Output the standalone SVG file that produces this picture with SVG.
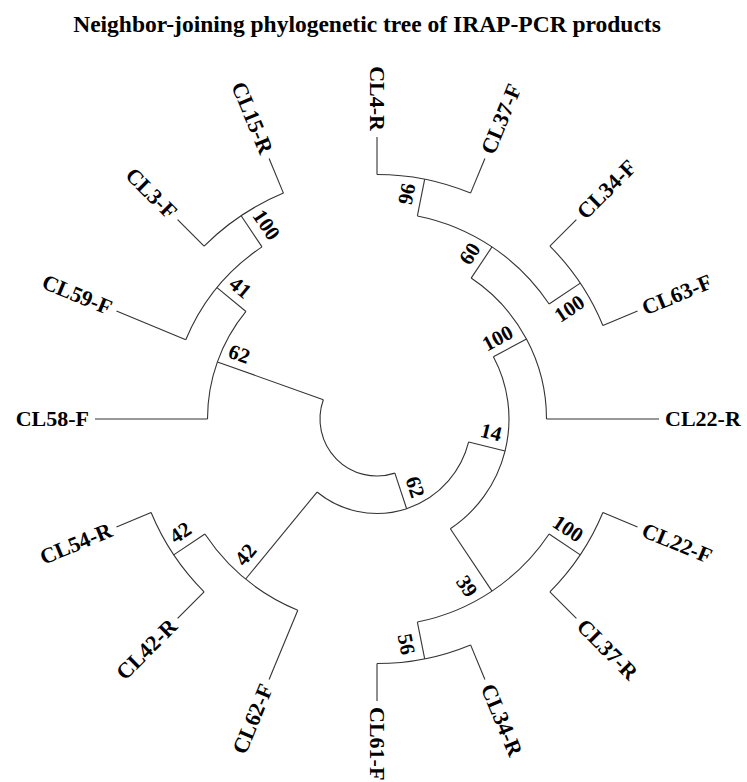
<svg xmlns="http://www.w3.org/2000/svg" width="747" height="782" viewBox="0 0 747 782">
<style>
.br{fill:none;stroke:#333;stroke-width:1.1}
.lf{font-family:"Liberation Serif","Times New Roman",serif;font-weight:bold;font-size:22px;fill:#000}
.bs{font-family:"Liberation Serif","Times New Roman",serif;font-weight:bold;font-size:21px;fill:#000;text-anchor:middle}
.title{font-family:"Liberation Serif","Times New Roman",serif;font-weight:bold;font-size:23.5px;fill:#000;text-anchor:middle}
.r{text-anchor:start}
.l{text-anchor:end}
</style>
<rect width="747" height="782" fill="#fff"/>
<text class="title" x="367" y="32">Neighbor-joining phylogenetic tree of IRAP-PCR products</text>

<g id="connectors" class="br">
<!-- arcs -->
<path d="M323.33,399.80 A57,57 0 0 0 394.88,473.12"/>
<path d="M245.97,311.47 A169.5,169.5 0 0 0 207.5,419"/>
<path d="M262.00,246.89 A207,207 0 0 0 185.76,339.79"/>
<path d="M283.43,193.11 A244.5,244.5 0 0 0 204.11,246.11"/>
<path d="M317.05,492.05 A94.5,94.5 0 0 0 468.67,441.96"/>
<path d="M204.89,534.00 A207,207 0 0 0 297.79,610.24"/>
<path d="M151.11,512.57 A244.5,244.5 0 0 0 204.11,591.89"/>
<path d="M450.34,528.75 A132,132 0 0 0 493.41,356.78"/>
<path d="M546.5,419 A169.5,169.5 0 0 0 471.17,278.07"/>
<path d="M549.11,304.00 A207,207 0 0 0 417.38,215.98"/>
<path d="M470.57,193.11 A244.5,244.5 0 0 0 377,174.5"/>
<path d="M602.89,325.43 A244.5,244.5 0 0 0 549.89,246.11"/>
<path d="M417.38,622.02 A207,207 0 0 0 549.11,534.00"/>
<path d="M549.89,591.89 A244.5,244.5 0 0 0 602.89,512.57"/>
<path d="M377,663.5 A244.5,244.5 0 0 0 470.57,644.89"/>
<!-- radial branches -->
<path d="M323.33,399.80 L217.41,361.90"/>
<path d="M394.88,473.12 L406.64,508.73"/>
<path d="M207.5,419 L95,419"/>
<path d="M245.97,311.47 L216.99,287.68"/>
<path d="M185.76,339.79 L116.47,311.08"/>
<path d="M262.00,246.89 L241.16,215.71"/>
<path d="M283.43,193.11 L269.08,158.47"/>
<path d="M204.11,246.11 L177.60,219.60"/>
<path d="M317.05,492.05 L245.68,579.01"/>
<path d="M468.67,441.96 L505.04,451.07"/>
<path d="M204.89,534.00 L173.71,554.84"/>
<path d="M297.79,610.24 L269.08,679.53"/>
<path d="M151.11,512.57 L116.47,526.92"/>
<path d="M204.11,591.89 L177.60,618.40"/>
<path d="M450.34,528.75 L492.00,591.11"/>
<path d="M493.41,356.78 L526.49,339.10"/>
<path d="M546.5,419 L659,419"/>
<path d="M471.17,278.07 L492.00,246.89"/>
<path d="M549.11,304.00 L580.29,283.16"/>
<path d="M417.38,215.98 L424.70,179.20"/>
<path d="M470.57,193.11 L484.92,158.47"/>
<path d="M377,174.5 L377,137"/>
<path d="M602.89,325.43 L637.53,311.08"/>
<path d="M549.89,246.11 L576.40,219.60"/>
<path d="M417.38,622.02 L424.70,658.80"/>
<path d="M549.11,534.00 L580.29,554.84"/>
<path d="M549.89,591.89 L576.40,618.40"/>
<path d="M602.89,512.57 L637.53,526.92"/>
<path d="M377,663.5 L377,701"/>
<path d="M470.57,644.89 L484.92,679.53"/>
</g>

<!-- leaves -->
<g id="CL4-R"><text class="lf l" dy="0.33em" transform="translate(377,131) rotate(90)">CL4-R</text></g>
<g id="CL37-F"><text class="lf r" dy="0.33em" transform="translate(487.21,152.92) rotate(-67.5)">CL37-F</text></g>
<g id="CL34-F"><text class="lf r" dy="0.33em" transform="translate(580.65,215.35) rotate(-45)">CL34-F</text></g>
<g id="CL63-F"><text class="lf r" dy="0.33em" transform="translate(643.08,308.79) rotate(-22.5)">CL63-F</text></g>
<g id="CL22-R"><text class="lf r" dy="0.33em" transform="translate(665,419)">CL22-R</text></g>
<g id="CL22-F"><text class="lf r" dy="0.33em" transform="translate(643.08,529.21) rotate(22.5)">CL22-F</text></g>
<g id="CL37-R"><text class="lf r" dy="0.33em" transform="translate(580.65,622.65) rotate(45)">CL37-R</text></g>
<g id="CL34-R"><text class="lf r" dy="0.33em" transform="translate(487.21,685.08) rotate(67.5)">CL34-R</text></g>
<g id="CL61-F"><text class="lf r" dy="0.33em" transform="translate(377,707) rotate(90)">CL61-F</text></g>
<g id="CL62-F"><text class="lf l" dy="0.33em" transform="translate(266.79,685.08) rotate(-67.5)">CL62-F</text></g>
<g id="CL42-R"><text class="lf l" dy="0.33em" transform="translate(173.35,622.65) rotate(-45)">CL42-R</text></g>
<g id="CL54-R"><text class="lf l" dy="0.33em" transform="translate(110.92,529.21) rotate(-22.5)">CL54-R</text></g>
<g id="CL58-F"><text class="lf l" dy="0.33em" transform="translate(89,419)">CL58-F</text></g>
<g id="CL59-F"><text class="lf l" dy="0.33em" transform="translate(110.92,308.79) rotate(22.5)">CL59-F</text></g>
<g id="CL3-F"><text class="lf l" dy="0.33em" transform="translate(173.35,215.35) rotate(45)">CL3-F</text></g>
<g id="CL15-R"><text class="lf l" dy="0.33em" transform="translate(266.79,152.92) rotate(67.5)">CL15-R</text></g>

<!-- internal nodes (bootstrap values) -->
<g id="root"/>
<g id="n62UL"><text class="bs" dy="0.34em" transform="translate(239.41,353.84) rotate(19.6875)">62</text></g>
<g id="n41"><text class="bs" dy="0.34em" transform="translate(240.42,287.50) rotate(39.375)">41</text></g>
<g id="n100UL"><text class="bs" dy="0.34em" transform="translate(266.55,224.71) rotate(56.25)">100</text></g>
<g id="n96"><text class="bs" dy="0.34em" transform="translate(406.48,193.92) rotate(-78.75)">96</text></g>
<g id="n60"><text class="bs" dy="0.34em" transform="translate(469.53,253.52) rotate(-56.25)">60</text></g>
<g id="n100b"><text class="bs" dy="0.34em" transform="translate(569.29,308.55) rotate(-33.75)">100</text></g>
<g id="n100top"><text class="bs" dy="0.34em" transform="translate(497.5,338) rotate(-28.125)">100</text></g>
<g id="n14"><text class="bs" dy="0.34em" transform="translate(491.22,432.15) rotate(14.0625)">14</text></g>
<g id="n62low"><text class="bs" dy="0.34em" transform="translate(415.24,486.93) rotate(71.72)">62</text></g>
<g id="n39"><text class="bs" dy="0.34em" transform="translate(467.03,586.15) rotate(56.25)">39</text></g>
<g id="n100c"><text class="bs" dy="0.34em" transform="translate(568,528.5) rotate(33.75)">100</text></g>
<g id="n56"><text class="bs" dy="0.34em" transform="translate(406.48,644.08) rotate(78.75)">56</text></g>
<g id="n42out"><text class="bs" dy="0.34em" transform="translate(245.50,554.58) rotate(-50.625)">42</text></g>
<g id="n42in"><text class="bs" dy="0.34em" transform="translate(180.34,532.37) rotate(-33.75)">42</text></g>
</svg>
